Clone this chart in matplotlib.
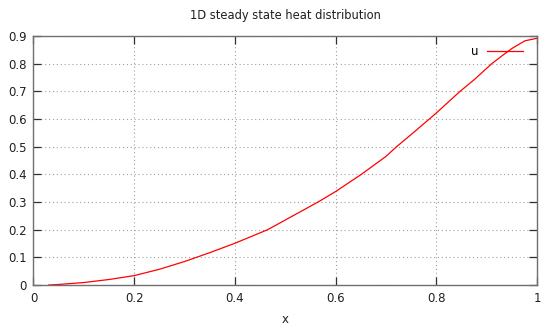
import matplotlib
matplotlib.use("Agg")
import matplotlib.pyplot as plt

# values
x = [0.03, 0.05, 0.1, 0.15, 0.2, 0.25, 0.3, 0.35, 0.4, 0.465, 0.5, 0.565, 0.6, 0.651,
     0.7, 0.721, 0.75, 0.786, 0.8, 0.847, 0.875, 0.91, 0.93, 0.95, 0.976, 1.0]
u = [0.0, 0.002, 0.009, 0.02, 0.034, 0.057, 0.085, 0.117, 0.151, 0.2, 0.235, 0.3, 0.338, 0.4,
     0.465, 0.5, 0.544, 0.6, 0.622, 0.7, 0.742, 0.8, 0.828, 0.855, 0.883, 0.892]
xticks = [0, 0.2, 0.4, 0.6, 0.8, 1]
yticks = [0, 0.1, 0.2, 0.3, 0.4, 0.5, 0.6, 0.7, 0.8, 0.9]

fig = plt.figure(figsize=(5.42, 3.28), dpi=100)
ax = fig.add_axes([0.0618, 0.131, 0.929, 0.759])

ax.plot(x, u, color="#ff0000", lw=0.9, label="u")

ax.set_xlim(0, 1)
ax.set_ylim(0, 0.9)
ax.set_xticks(xticks)
ax.set_xticklabels(["0", "0.2", "0.4", "0.6", "0.8", "1"])
ax.set_yticks(yticks)
ax.set_yticklabels(["0", "0.1", "0.2", "0.3", "0.4", "0.5", "0.6", "0.7", "0.8", "0.9"])

ax.grid(True, color="#a0a0a0", linestyle=(0, (1, 2.5)), lw=0.8)
for s in ax.spines.values():
    s.set_color("#707070")
    s.set_linewidth(1.0)
ax.tick_params(direction="in", length=6, width=0.9, color="#303030",
               top=True, right=True, labelsize=8.5, labelcolor="#202020", pad=5)

ax.set_title("1D steady state heat distribution", fontsize=8.3, color="#202020", pad=12)
ax.set_xlabel("x", fontsize=8.5, color="#202020", labelpad=6)

ax.legend(loc="upper right", frameon=False, markerfirst=False, fontsize=8.5,
          handlelength=3.0, bbox_to_anchor=(0.993, 1.005))

fig.savefig("out.png", dpi=100)
